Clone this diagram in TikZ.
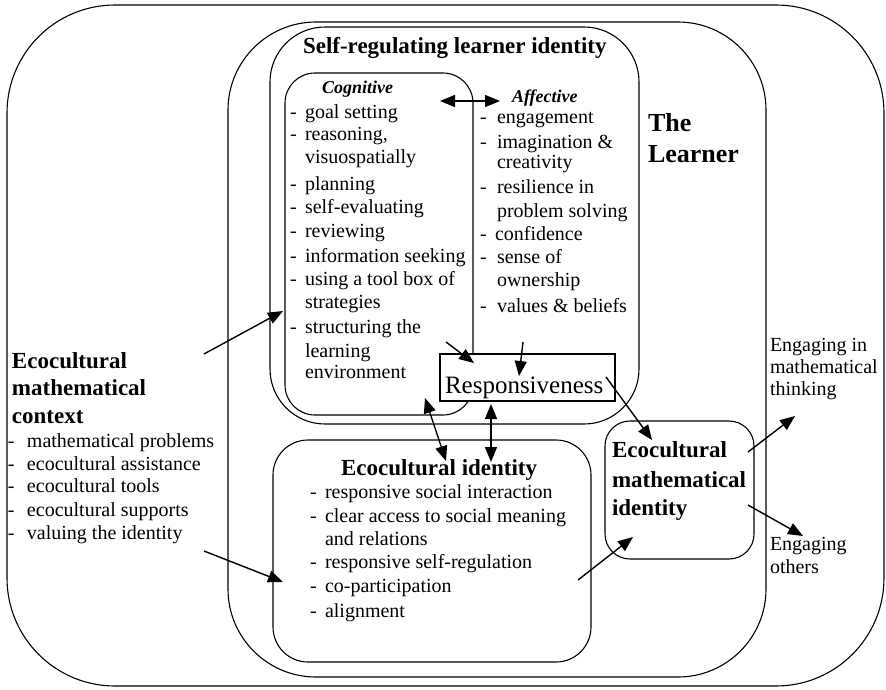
\documentclass[tikz,border=0pt]{standalone}
\usepackage{fontspec}
\setmainfont{Liberation Serif}
\usetikzlibrary{arrows.meta}
\begin{document}
\begin{tikzpicture}[x=1pt,y=-1pt,
  box/.style={draw, line width=1.1pt, rounded corners=#1, inner sep=0pt, outer sep=0pt},
  txt/.style={anchor=base west, inner sep=0pt, outer sep=0pt, font=\fontsize{20}{22}\selectfont},
  head/.style={anchor=base west, inner sep=0pt, outer sep=0pt, font=\fontsize{23}{25}\selectfont\bfseries},
  sub/.style={anchor=base west, inner sep=0pt, outer sep=0pt, font=\fontsize{18}{20}\selectfont\bfseries\itshape},
  arr/.style={line width=1.4pt, -{Triangle[length=15pt,width=12pt]}},
  darr/.style={line width=1.4pt, {Triangle[length=15pt,width=12pt]}-{Triangle[length=15pt,width=12pt]}}
]
\useasboundingbox (0,0) rectangle (886,689);

% boxes
\node[box=108, minimum width=877pt, minimum height=681pt] (outer) at (445.5,345.5) {};
\node[box=88, minimum width=538pt, minimum height=655pt] (learner) at (497,349.5) {};
\node[box=55, minimum width=369pt, minimum height=397pt] (srl) at (454.5,225.5) {};
\node[box=30, minimum width=188pt, minimum height=342pt] (cog) at (379,244) {};
\node[draw, line width=1.1pt, fill=white, inner sep=0pt, minimum width=175pt, minimum height=47pt] (resp) at (527.5,377.5) {};
\node[box=35, minimum width=318pt, minimum height=222pt] (eid) at (432,551) {};
\node[box=25, minimum width=149pt, minimum height=138pt] (emi) at (679.5,490) {};

% titles
\node[head] (srlT) at (303,53) {Self-regulating learner identity};
\node[sub] (cogT) at (322,93) {Cognitive};
\node[sub] (affT) at (512,102) {Affective};
\node[head, font=\fontsize{26}{28}\selectfont\bfseries] (the) at (648,131) {The};
\node[head, font=\fontsize{26}{28}\selectfont\bfseries] (lrn) at (648,162) {Learner};
\node[txt, font=\fontsize{25}{27}\selectfont] (respT) at (445,393) {Responsiveness};
\node[head] (ctx1) at (12,368) {Ecocultural};
\node[head] (ctx2) at (12,395) {mathematical};
\node[head] (ctx3) at (12,423) {context};
\node[head] (eidT) at (341,475) {Ecocultural identity};
\node[head] (emi1) at (612,457) {Ecocultural};
\node[head] (emi2) at (612,487) {mathematical};
\node[head] (emi3) at (612,515) {identity};

% cognitive list
\foreach \y/\t [count=\i] in {118/goal setting, 140/{reasoning,}, 190/planning, 213/self-evaluating,
  237/reviewing, 262/information seeking, 285/using a tool box of, 333/structuring the}{
  \node[txt] (cogd\i) at (290,\y) {-};
  \node[txt] (cogi\i) at (305,\y) {\t};
}
\foreach \y/\t [count=\i] in {163/visuospatially, 308/strategies, 357/learning, 378/environment}{
  \node[txt] (cogc\i) at (305,\y) {\t};
}
% affective list
\foreach \y/\t [count=\i] in {123/engagement, 148/imagination \&, 193/resilience in, 263/sense of, 312/values \& beliefs}{
  \node[txt] (affd\i) at (480,\y) {-};
  \node[txt] (affi\i) at (497,\y) {\t};
}
\node[txt] (affd6) at (480,240) {-};
\node[txt] (affi6) at (495,240) {confidence};
\foreach \y/\t [count=\i] in {168/creativity, 217/problem solving, 286/ownership}{
  \node[txt] (affc\i) at (497,\y) {\t};
}
% context list
\foreach \y/\t [count=\i] in {447/mathematical problems, 470/ecocultural assistance, 492/ecocultural tools,
  516/ecocultural supports, 539/valuing the identity}{
  \node[txt] (ctxd\i) at (8,\y) {-};
  \node[txt] (ctxi\i) at (27,\y) {\t};
}
% ecocultural identity list
\foreach \y/\t [count=\i] in {498/responsive social interaction, 522/clear access to social meaning,
  568/responsive self-regulation, 592/co-participation, 617/alignment}{
  \node[txt] (eidd\i) at (310,\y) {-};
  \node[txt] (eidi\i) at (325,\y) {\t};
}
\node[txt] (eidc1) at (325,545) {and relations};

% outcomes
\node[txt] (eng1) at (770,351) {Engaging in};
\node[txt] (eng2) at (770,373) {mathematical};
\node[txt] (eng3) at (770,395) {thinking};
\node[txt] (oth1) at (770,550) {Engaging};
\node[txt] (oth2) at (770,573) {others};

% arrow end points
\coordinate (p1s) at (204,354); \coordinate (p1e) at (283,311);
\coordinate (p2s) at (204,551); \coordinate (p2e) at (283,582);
\coordinate (p3s) at (446,342); \coordinate (p3e) at (474,363);
\coordinate (p4s) at (523,342); \coordinate (p4e) at (519,376);
\coordinate (p5s) at (425,398); \coordinate (p5e) at (446,461);
\coordinate (p6s) at (491,404); \coordinate (p6e) at (491,462);
\coordinate (p7s) at (606,377); \coordinate (p7e) at (652,440);
\coordinate (p8s) at (578,580); \coordinate (p8e) at (633,537);
\coordinate (p9s) at (748,452); \coordinate (p9e) at (795,416);
\coordinate (p10s) at (748,505); \coordinate (p10e) at (803,536);
\coordinate (p11s) at (440,101); \coordinate (p11e) at (500,101);

\draw[arr] (p1s) -- (p1e);
\draw[arr] (p2s) -- (p2e);
\draw[arr] (p3s) -- (p3e);
\draw[arr] (p4s) -- (p4e);
\draw[darr] (p5s) -- (p5e);
\draw[darr] (p6s) -- (p6e);
\draw[arr] (p7s) -- (p7e);
\draw[arr] (p8s) -- (p8e);
\draw[arr] (p9s) -- (p9e);
\draw[arr] (p10s) -- (p10e);
\draw[darr] (p11s) -- (p11e);
\end{tikzpicture}
\end{document}
